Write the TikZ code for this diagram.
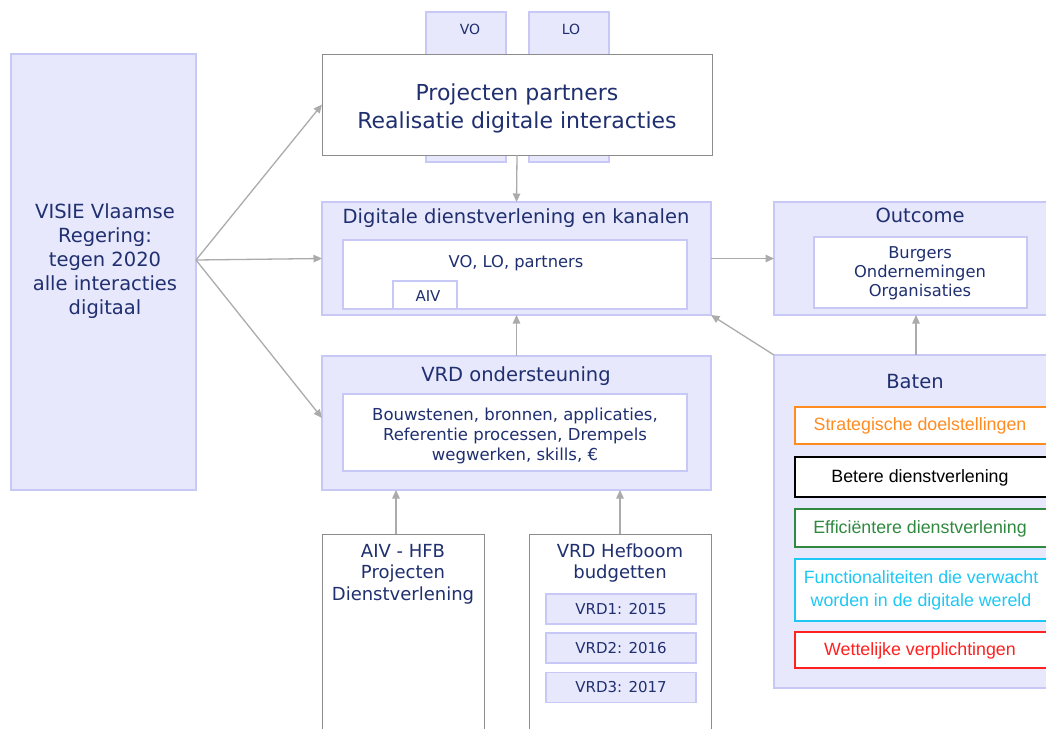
\documentclass[tikz,border=0pt]{standalone}
\usepackage{fontspec}
\setmainfont{DejaVu Sans}
\newfontfamily\batenfont{Liberation Sans}
\usetikzlibrary{arrows.meta}

\definecolor{lav}{HTML}{E8E8FC}
\definecolor{lavrand}{HTML}{C8C8F6}
\definecolor{navy}{HTML}{1F2F6F}
\definecolor{pijlgrijs}{HTML}{ABABAB}
\definecolor{kader}{HTML}{8C8C8C}
\definecolor{oranje}{HTML}{FF8C21}
\definecolor{groen}{HTML}{2F8A3F}
\definecolor{cyaan}{HTML}{1EC8F5}
\definecolor{rood}{HTML}{FF2020}

\tikzset{
  vak/.style={draw=lavrand,fill=lav,line width=1.5pt,inner sep=0pt,outer sep=0pt},
  witvak/.style={draw=lavrand,fill=white,line width=1.5pt,inner sep=0pt,outer sep=0pt},
  grijsvak/.style={draw=kader,fill=white,line width=1pt,inner sep=0pt,outer sep=0pt},
  baat/.style={fill=white,line width=1.3pt,inner sep=0pt,outer sep=0pt,minimum width=265pt},
  tekst/.style={text=navy,align=center,inner sep=0pt},
  groot/.style={font=\fontsize{19.5}{24}\selectfont},
  middel/.style={font=\fontsize{16.5}{20}\selectfont},
  lijst/.style={font=\fontsize{16.3}{19}\selectfont},
  klein/.style={font=\fontsize{15}{19}\selectfont},
  baattekst/.style={align=center,inner sep=0pt,font=\batenfont\fontsize{17.8}{22.5}\selectfont},
  pijl/.style={draw=pijlgrijs,line width=1.3pt,-{Triangle[width=7.5pt,length=8.5pt]}}
}

\begin{document}
\begin{tikzpicture}[x=1pt,y=-1pt]
\useasboundingbox (0,0) rectangle (1046,728);
\clip (0,0) rectangle (1046,728);

% visie links
\node[vak,minimum width=185pt,minimum height=436pt] (visie) at (103.5,272) {};
\node[tekst,groot] (visietxt) at (105,261) {VISIE Vlaamse\\Regering:\\tegen 2020\\alle interacties\\digitaal};

% projecten met tabs VO en LO
\node[vak,minimum width=80pt,minimum height=150pt] (votab) at (466,87) {};
\node[vak,minimum width=80pt,minimum height=150pt] (lotab) at (569,87) {};
\node[tekst,font=\fontsize{14}{17}\selectfont] (votxt) at (470,29) {VO};
\node[tekst,font=\fontsize{14}{17}\selectfont] (lotxt) at (571,29) {LO};
\node[grijsvak,minimum width=390pt,minimum height=101pt] (proj) at (517,104.5) {};
\node[tekst,font=\fontsize{22}{28}\selectfont] (projtxt) at (517,108) {Projecten partners\\Realisatie digitale interacties};

% digitale dienstverlening
\node[vak,minimum width=389pt,minimum height=113pt] (dig) at (516.5,258.5) {};
\node[tekst,groot] (digtxt) at (516,218) {Digitale dienstverlening en kanalen};
\node[witvak,minimum width=344pt,minimum height=69pt] (diginner) at (515,274.5) {};
\node[tekst,lijst] (digintxt) at (516,263) {VO, LO, partners};
\node[witvak,minimum width=64pt,minimum height=28pt] (aiv) at (425,295) {};
\node[tekst,klein] (aivtxt) at (428,296) {AIV};

% VRD ondersteuning
\node[vak,minimum width=389pt,minimum height=134pt] (vrd) at (516.5,423) {};
\node[tekst,groot] (vrdtxt) at (516,376) {VRD ondersteuning};
\node[witvak,minimum width=344pt,minimum height=77pt] (vrdinner) at (515,432.5) {};
\node[tekst,middel] (vrdintxt) at (515,436) {Bouwstenen, bronnen, applicaties,\\Referentie processen, Drempels\\wegwerken, skills, €};

% outcome
\node[vak,minimum width=284pt,minimum height=113pt] (outc) at (916,258.5) {};
\node[tekst,groot] (outctxt) at (920,215) {Outcome};
\node[witvak,minimum width=213pt,minimum height=71pt] (outcinner) at (920.5,272.5) {};
\node[tekst,lijst] (outcintxt) at (920,273) {Burgers\\Ondernemingen\\Organisaties};

% baten
\node[vak,minimum width=284pt,minimum height=333pt] (baten) at (916,521.5) {};
\node[tekst,groot] (batentxt) at (915,382) {Baten};
\node[baat,draw=oranje,minimum height=37pt] (strat) at (927.5,425.5) {};
\node[baattekst,text=oranje] (strattxt) at (920,426) {Strategische doelstellingen};
\node[baat,draw=black,minimum height=40pt] (beter) at (927.5,477) {};
\node[baattekst,text=black] (betertxt) at (920,477.5) {Betere dienstverlening};
\node[baat,draw=groen,minimum height=38pt] (effic) at (927.5,528) {};
\node[baattekst,text=groen] (effictxt) at (920,528.5) {Efficiëntere dienstverlening};
\node[baat,draw=cyaan,minimum height=62pt] (funct) at (927.5,590) {};
\node[baattekst,text=cyaan] (functtxt) at (921,590.5) {Functionaliteiten die verwacht\\worden in de digitale wereld};
\node[baat,draw=rood,minimum height=36pt] (wet) at (927.5,650) {};
\node[baattekst,text=rood] (wettxt) at (920,650.5) {Wettelijke verplichtingen};

% onderaan
\node[grijsvak,minimum width=162pt,minimum height=206pt] (aivhfb) at (403,637) {};
\node[tekst,font=\fontsize{18}{21.5}\selectfont] (aivhfbtxt) at (403,574) {AIV - HFB\\Projecten\\Dienstverlening};
\node[grijsvak,minimum width=182pt,minimum height=206pt] (hefboom) at (620,637) {};
\node[tekst,font=\fontsize{18}{21.5}\selectfont] (hefboomtxt) at (620,563) {VRD Hefboom\\budgetten};
\node[vak,minimum width=150pt,minimum height=30pt] (vrd1) at (621,609) {};
\node[tekst,klein] (vrd1txt) at (621,609) {VRD1: 2015};
\node[vak,minimum width=150pt,minimum height=30pt] (vrd2) at (621,648) {};
\node[tekst,klein] (vrd2txt) at (621,648) {VRD2: 2016};
\node[vak,minimum width=150pt,minimum height=30pt] (vrd3) at (621,687.5) {};
\node[tekst,klein] (vrd3txt) at (621,687.5) {VRD3: 2017};

% pijlen
\coordinate (splits) at ([yshift=12pt]visie.east);
\coordinate (aivtop) at ([xshift=-7pt]aivhfb.north);
\draw[pijl] (splits) -- (proj.west);
\draw[pijl] (splits) -- (dig.west);
\draw[pijl] (splits) -- ([yshift=5pt]vrd.west);
\draw[pijl] (proj.south) -- (dig.north);
\draw[pijl] (vrd.north) -- (dig.south);
\draw[pijl] (dig.east) -- (outc.west);
\draw[pijl] (baten.north west) -- (dig.south east);
\draw[pijl] (baten.north) -- (outc.south);
\draw[pijl] (aivtop) -- (aivtop |- vrd.south);
\draw[pijl] (hefboom.north) -- (hefboom.north |- vrd.south);
\end{tikzpicture}
\end{document}
